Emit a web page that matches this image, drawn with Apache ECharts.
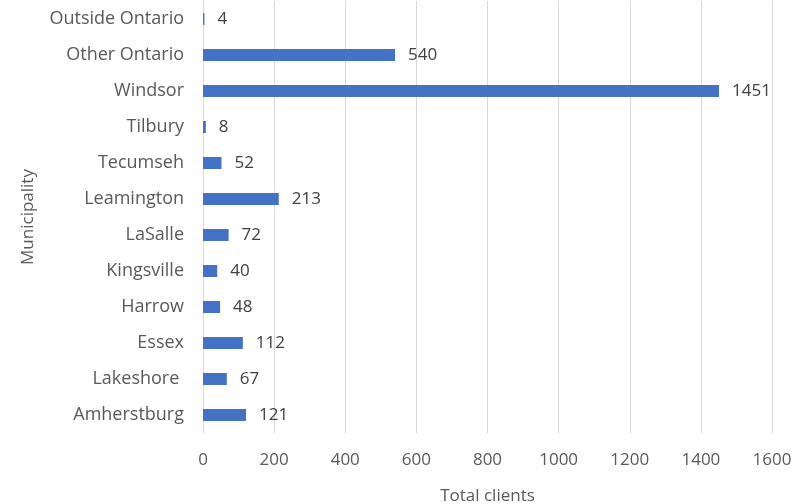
<!DOCTYPE html>
<html><head><meta charset="utf-8">
<script src="https://cdn.jsdelivr.net/npm/echarts@6/dist/echarts.min.js"></script>
<style>html,body{margin:0;padding:0;background:#fff}#c{width:809px;height:504px}</style>
</head><body><div id="c"></div>
<script>
const categories = ["Amherstburg","Lakeshore ","Essex","Harrow","Kingsville","LaSalle","Leamington","Tecumseh","Tilbury","Windsor","Other Ontario","Outside Ontario"];
const values = [121,67,112,48,40,72,213,52,8,1451,540,4];
const xTicks = [0,200,400,600,800,1000,1200,1400,1600];
const font = "'Open Sans', sans-serif";
const chart = echarts.init(document.getElementById('c'));
chart.setOption({
  animation:false,
  grid:{left:203,right:37,top:1,bottom:71,outerBoundsMode:'none',containLabel:false},
  xAxis:{type:'value',min:xTicks[0],max:xTicks[xTicks.length-1],interval:xTicks[1]-xTicks[0],
    name:'Total clients',nameLocation:'middle',nameGap:55,
    nameTextStyle:{color:'#595959',fontSize:17,fontFamily:font},
    axisLabel:{color:'#595959',fontSize:17,fontFamily:font,margin:19,formatter:v=>String(v)},
    splitLine:{lineStyle:{color:'#d9d9d9',width:1}},
    axisLine:{show:false},axisTick:{show:false}},
  yAxis:{type:'category',data:categories,
    name:'Municipality',nameLocation:'middle',nameGap:166,
    nameTextStyle:{color:'#595959',fontSize:17,fontFamily:font},
    axisLabel:{color:'#595959',fontSize:18,fontFamily:font,margin:19},
    axisLine:{lineStyle:{color:'#d9d9d9'}},axisTick:{show:false}},
  series:[{type:'bar',data:values,barWidth:12,
    itemStyle:{color:'#4472C4'},
    label:{show:true,position:'right',distance:13,color:'#404040',fontSize:17,fontFamily:font}}]
});
</script></body></html>
